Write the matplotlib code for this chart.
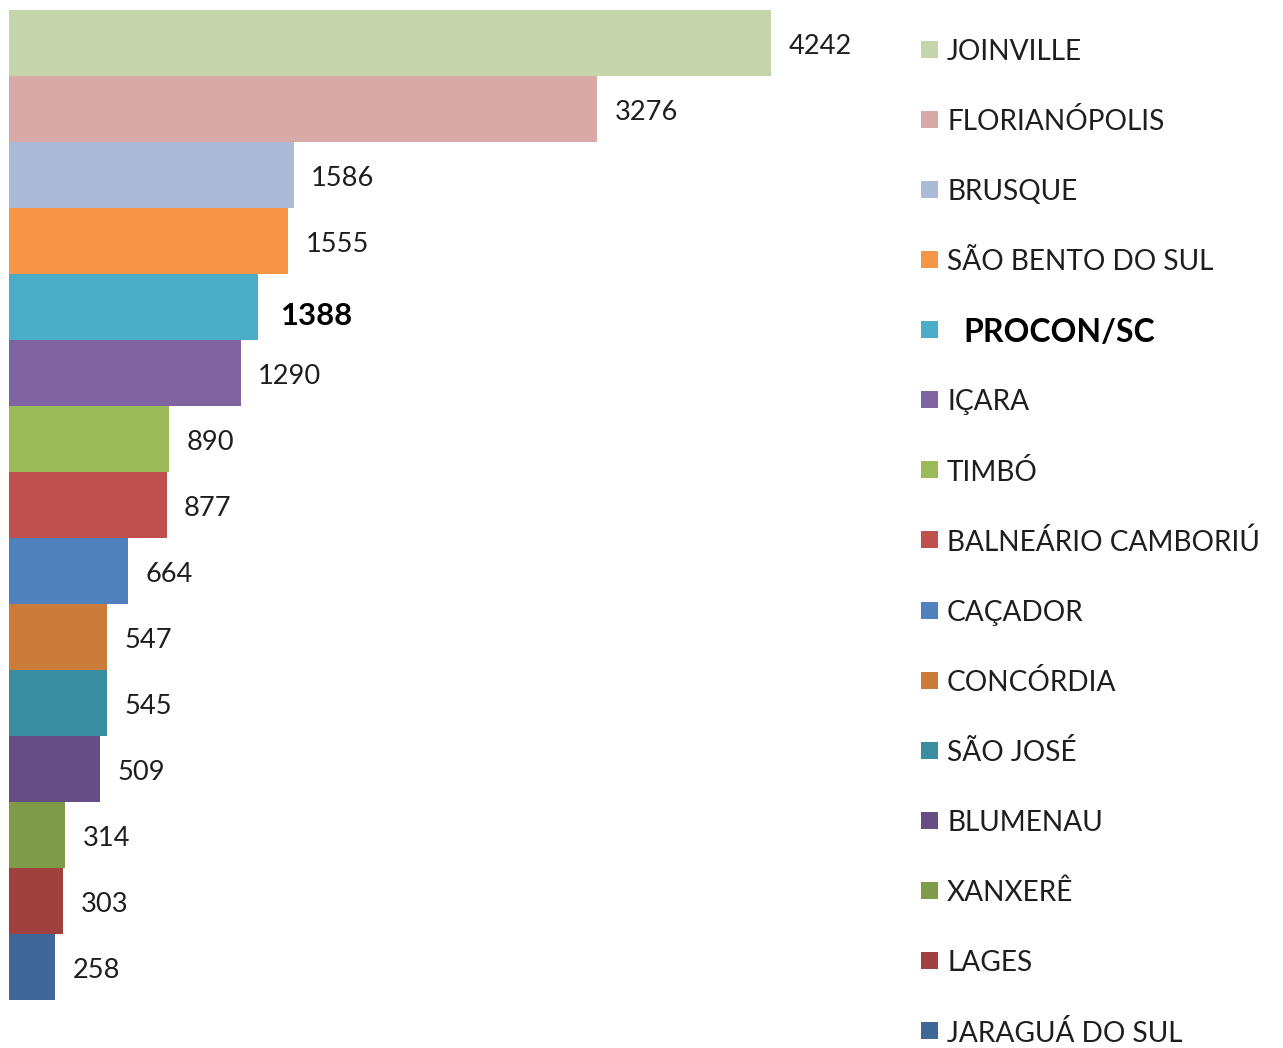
import matplotlib
matplotlib.use("Agg")
import matplotlib.pyplot as plt
from matplotlib.patches import Rectangle

cities = ["JOINVILLE", "FLORIANÓPOLIS", "BRUSQUE", "SÃO BENTO DO SUL", "PROCON/SC",
          "IÇARA", "TIMBÓ", "BALNEÁRIO CAMBORIÚ", "CAÇADOR", "CONCÓRDIA",
          "SÃO JOSÉ", "BLUMENAU", "XANXERÊ", "LAGES", "JARAGUÁ DO SUL"]
values = [4242, 3276, 1586, 1555, 1388, 1290, 890, 877, 664, 547, 545, 509, 314, 303, 258]
colors = ["#C4D5AB", "#D9A9A8", "#AABAD7", "#F69546", "#4AACC6",
          "#8064A2", "#9BBB59", "#C0504D", "#4F81BD", "#CB7B3A",
          "#3A8CA0", "#664D84", "#7F9A48", "#A0413F", "#3F6797"]
highlight = "PROCON/SC"

plt.rcParams['font.family'] = ['Lato', 'DejaVu Sans']

W, H = 1283, 1048
fig = plt.figure(figsize=(W / 100, H / 100), dpi=100)

scale = (771 - 9) / 4242.0  # px per unit
ax_left_px, ax_right_px = 9, 900
ax_top_px, ax_bot_px = 10, 1000
ax = fig.add_axes([ax_left_px / W, (H - ax_bot_px) / H,
                   (ax_right_px - ax_left_px) / W, (ax_bot_px - ax_top_px) / H])
ypos = list(range(len(values)))
ax.barh(ypos, values, height=1.0, color=colors, edgecolor='none')
ax.set_xlim(0, (ax_right_px - ax_left_px) / scale)
ax.set_ylim(len(values) - 0.5, -0.5)
ax.axis('off')

for y, v, c in zip(ypos, values, cities):
    if c == highlight:
        ax.annotate(str(v), (v, y), xytext=(16, -6.3), textcoords='offset points',
                    va='center', ha='left', fontsize=22.3, fontweight='bold', color='black')
    else:
        ax.annotate(str(v), (v, y), xytext=(12.5, -2.5), textcoords='offset points',
                    va='center', ha='left', fontsize=19.6, color='#1e1e1e')

# legend drawn in pixel coordinates
lg = fig.add_axes([0, 0, 1, 1])
lg.set_xlim(0, W)
lg.set_ylim(H, 0)
lg.axis('off')
row0, step = 49, 70.14
for i, (c, col) in enumerate(zip(cities, colors)):
    yc = row0 + i * step
    lg.add_patch(Rectangle((921, yc - 8.5), 17, 17, facecolor=col, edgecolor='none'))
    if c == highlight:
        lg.text(963, yc + 3, c, fontsize=23, fontweight='bold', va='center', ha='left', color='black')
    else:
        lg.text(947, yc + 2.5, c, fontsize=20.2, va='center', ha='left', color='#1e1e1e')

fig.savefig("out.png", dpi=100, facecolor='white')
